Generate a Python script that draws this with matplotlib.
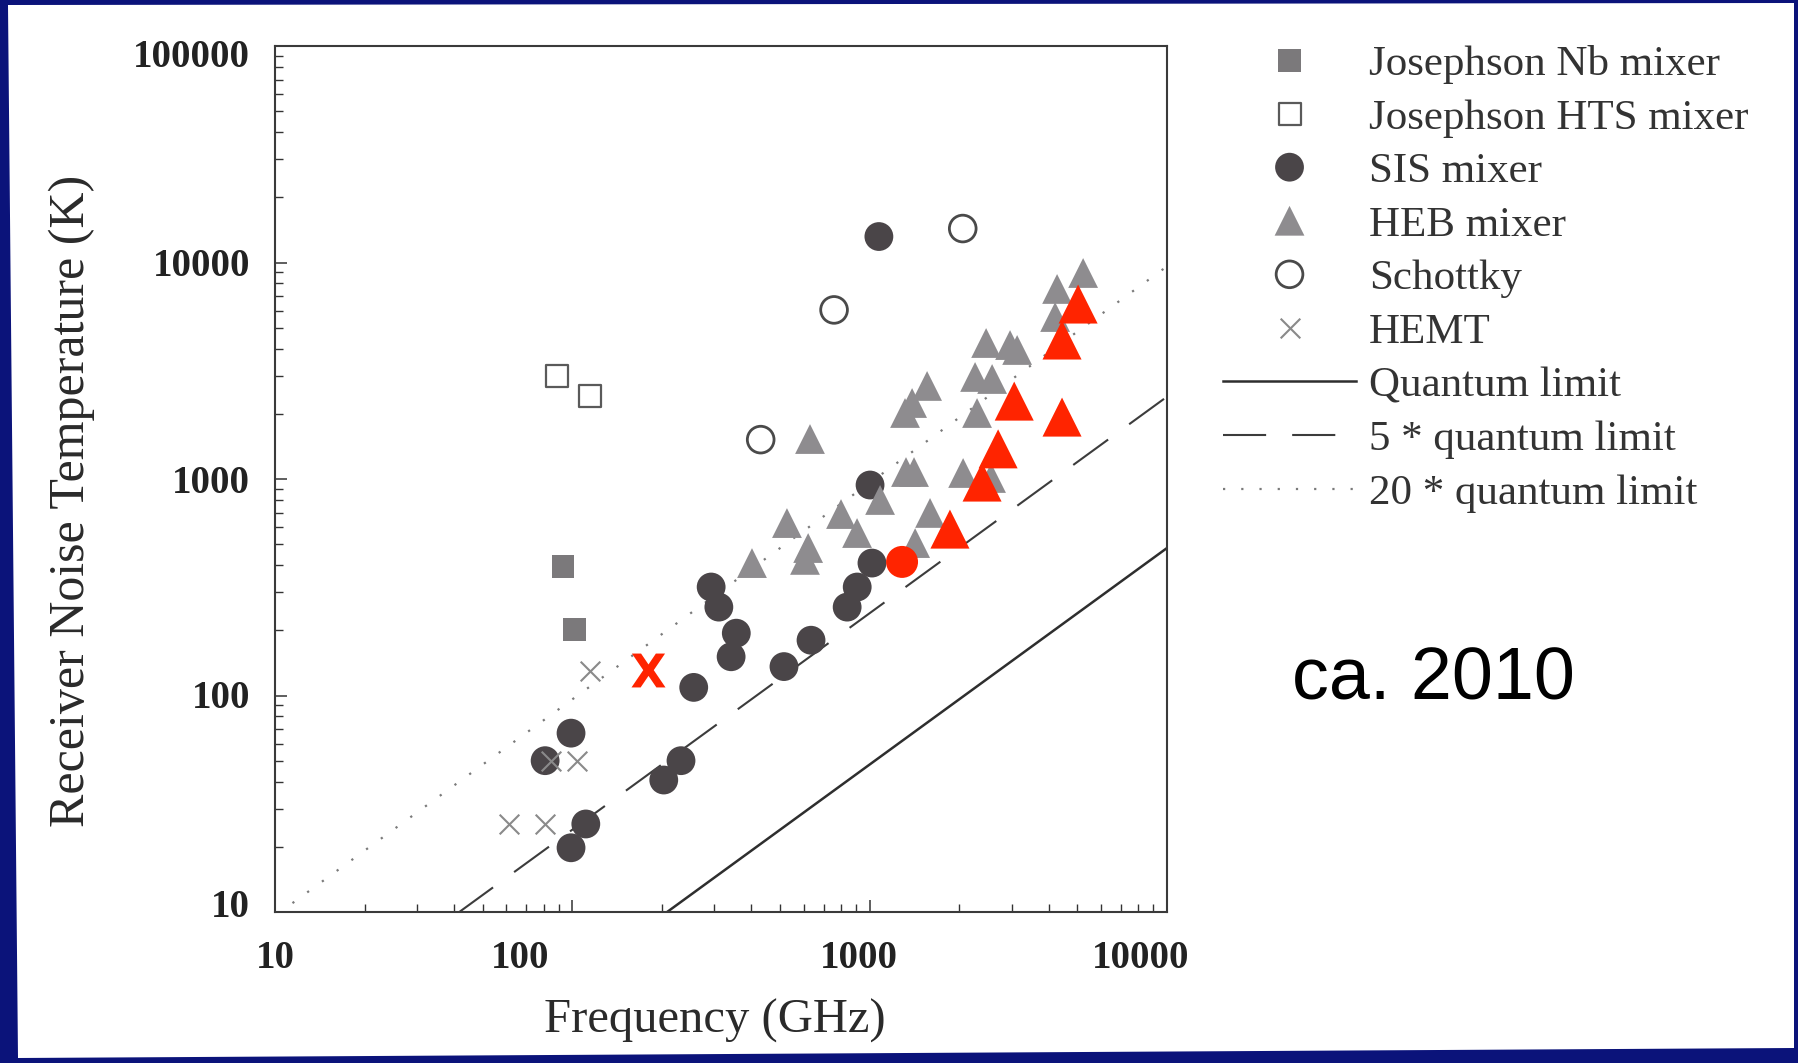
import numpy as np
import matplotlib
matplotlib.use("Agg")
import matplotlib.pyplot as plt
from matplotlib.patches import Polygon
from matplotlib.lines import Line2D
from matplotlib.ticker import LogLocator, NullFormatter
from matplotlib.transforms import ScaledTranslation

# ---------------- data (frequency in GHz, receiver noise temperature in K) -------------
nb_freq = [93, 102]
nb_temp = [393, 201]

hts_freq = [89, 115]
hts_temp = [2980, 2420]

sis_freq = [1074, 1003, 1018, 908, 840, 293, 311, 356, 342, 256, 635, 515, 99, 81, 232, 203, 111, 99]
sis_temp = [13180, 938, 409, 317, 256, 317, 256, 194, 151, 109, 180, 136, 67, 50, 50, 40.7, 25.5, 19.8]

heb_freq = [630, 1560, 1389, 1315, 1325, 1410, 2062, 1084, 801, 1596, 527, 907, 1422, 621, 606, 402,
            5223, 4269, 4204, 2464, 2966, 3133, 2262, 2581, 2297, 2560]
heb_temp = [1530, 2690, 2244, 2018, 1077, 1077, 1066, 800, 689, 697, 626, 563, 506, 480, 423, 409,
            8944, 7547, 5600, 4248, 4157, 3944, 2960, 2897, 2018, 1011]

schottky_freq = [430, 759, 2056]
schottky_temp = [1520, 6040, 14350]

hemt_freq = [115, 85, 104, 61, 81]
hemt_temp = [130, 50, 50, 25.5, 25.5]

# newer results highlighted in red
new_hemt_freq = [180]
new_hemt_temp = [131]
new_sis_freq = [1285]
new_sis_temp = [414]
new_heb_freq = [5024, 4436, 3063, 4436, 2704, 2388, 1862]
new_heb_temp = [6430, 4385, 2290, 1932, 1378, 968, 587]

# quantum limit T = h f / k
ql_freq = [1.0, 1.0e5]
ql_coeff = 0.048          # K per GHz
ql_multiples = [1, 5, 20]
ql_labels = ["Quantum limit", "5 * quantum limit", "20 * quantum limit"]

xtick_vals = [10, 100, 1000, 10000]
xtick_labels = ["10", "100", "1000", "10000"]
ytick_vals = [10, 100, 1000, 10000, 100000]
ytick_labels = ["10", "100", "1000", "10000", "100000"]

# small label shifts (pixels) seen in the scanned original
xlabel_shift_px = [0, -52, -11, -26]
ylabel_shift_px = [9, 2, 0, 0, -7]

# ---------------- figure ----------------
W, H, DPI = 1799, 1063, 100
fig = plt.figure(figsize=(W / DPI, H / DPI), dpi=DPI)
fig.patch.set_facecolor("#0b137a")
card = Polygon([(8 / W, 1 - 5 / H), (1794 / W, 1 - 3 / H), (1794 / W, 1 - 1048 / H), (18 / W, 1 - 1058 / H)],
               closed=True, transform=fig.transFigure, facecolor="white", edgecolor="none", zorder=-5)
fig.add_artist(card)

ax = fig.add_axes([275 / W, 1 - 912 / H, (1167 - 275) / W, (912 - 46) / H])
ax.set_facecolor("white")
ax.set_xscale("log")
ax.set_yscale("log")

serif = "Liberation Serif"
red = "#ff2400"
dash_pat = (20.7, 12.5)

qf = np.array(ql_freq)
l1, = ax.plot(qf, ql_multiples[0] * ql_coeff * qf, color="#2e2e2e", lw=1.8, label=ql_labels[0], zorder=1)
ax.plot(qf, ql_multiples[1] * ql_coeff * qf, color="#3c3c3c", lw=1.5,
        linestyle=(9.5, dash_pat), zorder=1)
l3, = ax.plot(qf, ql_multiples[2] * ql_coeff * qf, color="#7a7a7a", lw=1.6, dashes=(1, 7.2),
              label=ql_labels[2], zorder=1)
l2 = Line2D([], [], color="#3c3c3c", lw=1.5, linestyle=(0, dash_pat), label=ql_labels[1])

s_nb = ax.scatter(nb_freq, nb_temp, marker="s", s=272, c="#7b797b", edgecolors="none",
                  label="Josephson Nb mixer", zorder=3)
s_hts = ax.scatter(hts_freq, hts_temp, marker="s", s=250, facecolors="none", edgecolors="#5a5a5a",
                   linewidths=1.6, label="Josephson HTS mixer", zorder=3)
s_sis = ax.scatter(sis_freq, sis_temp, marker="o", s=430, c="#4a4548", edgecolors="none",
                   label="SIS mixer", zorder=3)
s_heb = ax.scatter(heb_freq, heb_temp, marker="^", s=460, c="#8e8c8f", edgecolors="none",
                   label="HEB mixer", zorder=4)
s_sch = ax.scatter(schottky_freq, schottky_temp, marker="o", s=370, facecolors="none", edgecolors="#4a4a4a",
                   linewidths=2.0, label="Schottky", zorder=3)
s_hemt = ax.scatter(hemt_freq, hemt_temp, marker="x", s=200, c="#8a8a8a", linewidths=1.5,
                    label="HEMT", zorder=5)

ax.scatter(new_heb_freq, new_heb_temp, marker="^", s=790, c=red, edgecolors="none", zorder=6)
ax.scatter(new_sis_freq, new_sis_temp, marker="o", s=530, c=red, edgecolors="none", zorder=6)
ax.scatter(new_hemt_freq, new_hemt_temp, marker=r"$\mathbf{X}$", s=600, c=red, linewidths=0, zorder=6)

ax.set_xlim(10, 10000)
ax.set_ylim(10, 100000)

ax.set_xticks(xtick_vals, xtick_labels, fontfamily=serif, fontweight="bold", fontsize=28)
ax.set_yticks(ytick_vals, ytick_labels, fontfamily=serif, fontweight="bold", fontsize=28)
for axis in (ax.xaxis, ax.yaxis):
    axis.set_minor_locator(LogLocator(base=10, subs=np.arange(2, 10)))
    axis.set_minor_formatter(NullFormatter())
ax.tick_params(which="both", direction="in", top=False, right=False, color="#333333", labelcolor="#222222")
ax.tick_params(which="major", length=8.6, width=1.1)
ax.tick_params(which="minor", length=5.8, width=1.0)
ax.tick_params(axis="x", which="major", pad=20)
ax.tick_params(axis="y", which="major", pad=18)
for sp in ax.spines.values():
    sp.set_color("#3a3a3a")
    sp.set_linewidth(1.5)

ax.set_xlabel("Frequency (GHz)", fontsize=35, family=serif, color="#2a2a2a")
ax.xaxis.label.set_va("center")
ax.xaxis.set_label_coords(0.493, -0.126)
ax.set_ylabel("Receiver Noise Temperature (K)", fontsize=36, family=serif, color="#2a2a2a")
ax.yaxis.label.set_va("center")
ax.yaxis.set_label_coords(-0.228, 0.4746)

handles = [s_nb, s_hts, s_sis, s_heb, s_sch, s_hemt, l1, l2, l3]
ax.legend(handles=handles, labels=[h.get_label() for h in handles],
          loc="upper left", bbox_to_anchor=(1223 / W, 1 - 45 / H), bbox_transform=fig.transFigure,
          frameon=False, prop={"family": serif, "size": 31}, labelcolor="#333333",
          handlelength=3.09, handletextpad=0.3, labelspacing=0.335, borderpad=0, borderaxespad=0,
          scatterpoints=1, scatteryoffsets=[0.5])

fig.text(1292 / W, 1 - 700 / H, "ca. 2010", fontsize=53, family="Liberation Sans", color="black",
         ha="left", va="baseline")

# apply the small label shifts of the original scan
for lbl, dx in zip(ax.get_xticklabels(), xlabel_shift_px):
    lbl.set_transform(lbl.get_transform() + ScaledTranslation(dx / DPI, 0, fig.dpi_scale_trans))
for lbl, dy in zip(ax.get_yticklabels(), ylabel_shift_px):
    lbl.set_transform(lbl.get_transform() + ScaledTranslation(0, dy / DPI, fig.dpi_scale_trans))

fig.savefig("out.png", dpi=DPI, facecolor=fig.get_facecolor())
